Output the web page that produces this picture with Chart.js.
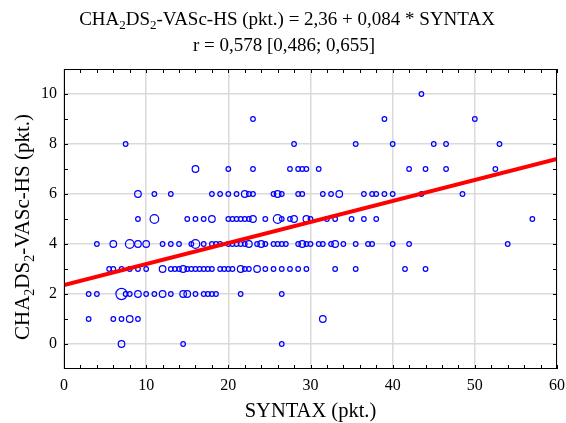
<!DOCTYPE html>
<html>
<head>
<meta charset="utf-8">
<script src="https://cdn.jsdelivr.net/npm/chart.js@4.4.1/dist/chart.umd.min.js"></script>
<style>
  html, body { margin: 0; padding: 0; background: #fff; }
</style>
</head>
<body>
<canvas id="grafico" width="566" height="423"></canvas>
<script>
// Dados: cada nível de pontuação tem a sua lista de SYNTAX e contagens
const scoreLevels = [10, 9, 8, 7, 6, 5, 4, 3, 2, 1, 0];

const syntaxByLevel = [
  [43.5],
  [23, 39, 50],
  [7.5, 28, 35.5, 40, 45, 46.5, 53],
  [16, 20, 23, 27.5, 28.5, 29, 29.5, 31, 42, 44, 46.5, 52.5],
  [9, 11, 13, 18, 19, 20, 21, 22, 22.5, 23, 25.5, 26, 26.5, 28.5, 29, 31.5, 32.5, 33.5, 36.5, 37.5, 38, 39, 40, 43.5, 48.5],
  [9, 11, 15, 16, 17, 18, 20, 20.5, 21, 21.5, 22, 22.5, 23, 24.5, 26, 26.5, 27.5, 28, 29.5, 30, 32, 33, 35, 36.5, 38, 57],
  [4, 6, 8, 9, 10, 12, 13, 14, 15.5, 16, 17, 18, 18.5, 19, 20, 20.5, 21, 21.5, 22, 22.5, 23.5, 24, 24.5, 25.5, 26, 26.5, 27, 28.5, 29, 29.5, 30, 31, 31.5, 32.5, 33, 34, 35.5, 37, 37.5, 40, 42, 54],
  [5.5, 6, 7, 8, 9, 10, 12, 13, 13.5, 14, 14.5, 15, 15.5, 16, 16.5, 17, 17.5, 18, 19, 19.5, 20, 20.5, 21.5, 22, 22.5, 23.5, 24.5, 25.5, 26.5, 27.5, 28.5, 29.5, 33, 35.5, 41.5, 44],
  [3, 4, 7, 7.5, 8, 9, 10, 11, 12, 13, 14.5, 15, 16, 17, 17.5, 18, 18.5, 21.5, 26.5],
  [3, 6, 7, 8, 9, 31.5],
  [7, 14.5, 26.5]
];

const countByLevel = [
  [1],
  [1, 1, 1],
  [1, 1, 1, 1, 1, 1, 1],
  [2, 1, 1, 1, 1, 1, 1, 1, 1, 1, 1, 1],
  [2, 1, 1, 1, 1, 1, 1, 2, 1, 1, 1, 2, 1, 1, 1, 1, 1, 2, 1, 1, 1, 1, 1, 1, 1],
  [1, 3, 1, 1, 1, 2, 1, 1, 1, 1, 1, 1, 2, 1, 3, 1, 1, 2, 2, 1, 1, 1, 1, 1, 1, 1],
  [1, 2, 3, 2, 2, 1, 1, 1, 1, 3, 1, 1, 1, 1, 1, 1, 1, 1, 1, 2, 1, 2, 1, 1, 1, 1, 1, 1, 2, 1, 1, 1, 1, 1, 2, 1, 1, 1, 1, 1, 1, 1],
  [1, 1, 1, 1, 1, 1, 2, 1, 1, 1, 2, 1, 1, 1, 1, 1, 1, 1, 1, 1, 1, 1, 2, 1, 1, 2, 1, 1, 1, 1, 1, 1, 1, 1, 1, 1],
  [1, 1, 4, 1, 1, 2, 1, 1, 2, 1, 2, 2, 1, 1, 1, 1, 1, 1, 1],
  [1, 1, 1, 2, 1, 2],
  [2, 1, 1]
];

// Reta de regressão (do título)
const intercept = 2.36;
const slope = 0.084;
const xRange = [0, 60];

const xTicks = [0, 10, 20, 30, 40, 50, 60];
const yTicks = [0, 2, 4, 6, 8, 10];

const FONT = '"Liberation Serif", "Times New Roman", serif';

// monta os pontos
const pontos = [];
scoreLevels.forEach((score, i) => {
  syntaxByLevel[i].forEach((sx, j) => {
    pontos.push({ x: sx, y: score, n: countByLevel[i][j] });
  });
});

const raio = n => [0, 2.3, 3.3, 4.3, 5.6][Math.min(n, 4)];

// texto com subscrito
function textoRico(ctx, partes, size, cx, cy) {
  const sub = Math.round(size * 0.68);
  let w = 0;
  partes.forEach(([t, s]) => {
    ctx.font = (s ? sub : size) + 'px ' + FONT;
    w += ctx.measureText(t).width;
  });
  let xx = cx - w / 2;
  ctx.textBaseline = 'alphabetic';
  ctx.textAlign = 'left';
  partes.forEach(([t, s]) => {
    ctx.font = (s ? sub : size) + 'px ' + FONT;
    ctx.fillText(t, xx, cy + (s ? size * 0.22 : 0));
    xx += ctx.measureText(t).width;
  });
}

const molduraPlugin = {
  id: 'moldura',
  afterDraw(chart) {
    const { ctx, chartArea: a, scales: { x, y } } = chart;
    ctx.save();
    ctx.strokeStyle = '#000';
    ctx.lineWidth = 1;
    ctx.strokeRect(Math.round(a.left) + 0.5, Math.round(a.top) + 0.5,
      Math.round(a.right - a.left) - 1, Math.round(a.bottom - a.top) - 1);

    // marcas menores para dentro
    ctx.beginPath();
    for (let v = 0; v <= 60; v += 2) {
      const px = Math.round(x.getPixelForValue(v)) + 0.5;
      ctx.moveTo(px, a.bottom); ctx.lineTo(px, a.bottom - 4);
      ctx.moveTo(px, a.top); ctx.lineTo(px, a.top + 4);
    }
    for (let v = 0; v <= 10; v++) {
      const py = Math.round(y.getPixelForValue(v)) + 0.5;
      ctx.moveTo(a.left, py); ctx.lineTo(a.left + 4, py);
      ctx.moveTo(a.right, py); ctx.lineTo(a.right - 4, py);
    }
    ctx.stroke();

    ctx.fillStyle = '#000';
    // título
    textoRico(ctx, [['CHA'], ['2', 1], ['DS'], ['2', 1], ['-VASc-HS (pkt.) = 2,36 + 0,084 * SYNTAX']], 19, 287, 25);
    textoRico(ctx, [['r = 0,578 [0,486; 0,655]']], 19, 284, 51);

    // título do eixo x
    textoRico(ctx, [['SYNTAX (pkt.)']], 20.5, (a.left + a.right) / 2, 417);

    // título do eixo y
    ctx.translate(29, 227);
    ctx.rotate(-Math.PI / 2);
    textoRico(ctx, [['CHA'], ['2', 1], ['DS'], ['2', 1], ['-VASc-HS (pkt.)']], 21, 0, 0);
    ctx.restore();
  }
};

new Chart(document.getElementById('grafico'), {
  type: 'scatter',
  data: {
    datasets: [
      {
        type: 'line',
        data: xRange.map(v => ({ x: v, y: intercept + slope * v })),
        borderColor: '#ff0000',
        borderWidth: 4,
        pointRadius: 0,
        fill: false,
        order: 0
      },
      {
        data: pontos,
        pointStyle: 'circle',
        backgroundColor: 'rgba(0,0,0,0)',
        borderColor: '#0000ff',
        borderWidth: 1.2,
        pointRadius: c => raio(c.raw ? c.raw.n : 1),
        order: 1
      }
    ]
  },
  options: {
    responsive: false,
    animation: false,
    layout: { padding: { left: 0, right: 9, top: 69, bottom: 0 } },
    plugins: {
      legend: { display: false },
      tooltip: { enabled: false }
    },
    scales: {
      x: {
        type: 'linear',
        min: 0,
        max: 60,
        afterBuildTicks: s => { s.ticks = xTicks.map(v => ({ value: v })); },
        afterFit: s => { s.height = 54; s.paddingLeft = 0; s.paddingRight = 0; },
        grid: { color: '#dadada', lineWidth: 1.5, drawTicks: false },
        border: { display: false },
        ticks: { color: '#000', padding: 7, font: { family: FONT, size: 16 } }
      },
      y: {
        type: 'linear',
        min: -1,
        max: 11,
        afterBuildTicks: s => { s.ticks = yTicks.map(v => ({ value: v })); },
        afterFit: s => { s.width = 64; s.paddingTop = 0; s.paddingBottom = 0; },
        grid: { color: '#dadada', lineWidth: 1.5, drawTicks: false },
        border: { display: false },
        ticks: { color: '#000', padding: 7, font: { family: FONT, size: 16 } }
      }
    }
  },
  plugins: [molduraPlugin]
});
</script>
</body>
</html>
